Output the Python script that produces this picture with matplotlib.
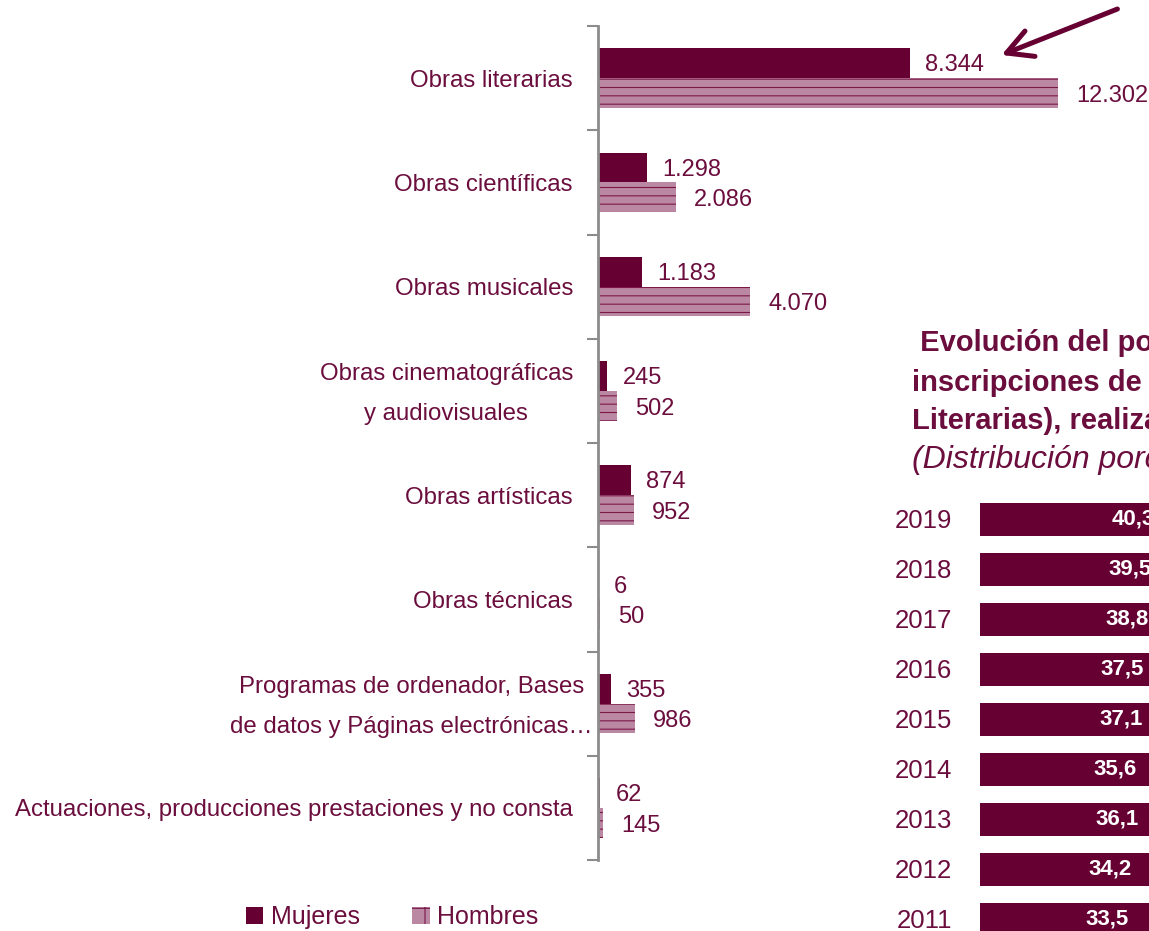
import numpy as np
import matplotlib
matplotlib.use("Agg")
import matplotlib.pyplot as plt
from matplotlib.patches import Patch
from matplotlib.transforms import ScaledTranslation

plt.rcParams['font.family'] = ['Liberation Sans', 'DejaVu Sans']
plt.rcParams['hatch.linewidth'] = 0.8

# Colores
granate = '#660033'
texto = '#6b0d3d'
malva = '#bb88a3'
trama = '#7a1848'

# Datos: inscripciones por tipo de obra y sexo
categorias = ['Obras literarias', 'Obras científicas', 'Obras musicales',
              'Obras cinematográficas\ny audiovisuales', 'Obras artísticas',
              'Obras técnicas', 'Programas de ordenador, Bases\nde datos y Páginas electrónicas…',
              'Actuaciones, producciones prestaciones y no consta']
mujeres = [8344, 1298, 1183, 245, 874, 6, 355, 62]
hombres = [12302, 2086, 4070, 502, 952, 50, 986, 145]

# Datos: evolución del porcentaje (panel derecho, recortado)
anios = ['2019', '2018', '2017', '2016', '2015', '2014', '2013', '2012', '2011']
porcentaje = [40.3, 39.5, 38.8, 37.5, 37.1, 35.6, 36.1, 34.2, 33.5]

W, H = 1149, 931
fig = plt.figure(figsize=(W / 100, H / 100), dpi=100)

def fx(px):
    return px / W

def fy(py):
    return 1 - py / H

# ---- panel izquierdo ----
ax = fig.add_axes([fx(598), fy(860), fx(1149 - 598), (860 - 26) / H])
ax.patch.set_visible(False)
y = np.arange(len(categorias))
h = 0.285
ax.barh(y - h / 2, mujeres, height=h, color=granate, linewidth=0)
ax.barh(y + h / 2, hombres, height=h, facecolor=malva, edgecolor=trama,
        linewidth=0, hatch='--')

ax.set_xlim(0, 12302 * 551 / 460)
ax.set_ylim(len(categorias) - 0.5, -0.5)

def fmt(v):
    return f'{v:,}'.replace(',', '.')

for i in range(len(categorias)):
    ax.annotate(fmt(mujeres[i]), (mujeres[i], y[i] - h / 2), xytext=(11, -1.5),
                textcoords='offset points', va='center', ha='left',
                fontsize=17, color=texto)
    ax.annotate(fmt(hombres[i]), (hombres[i], y[i] + h / 2), xytext=(13, -2),
                textcoords='offset points', va='center', ha='left',
                fontsize=17, color=texto)

ax.set_yticks(y)
ax.set_yticklabels(categorias, fontsize=17.3, color=texto, linespacing=2.05,
                   multialignment='center')
ax.tick_params(axis='y', which='major', length=0, pad=18)
ax.set_yticks(np.arange(-0.5, len(categorias)), minor=True)
ax.tick_params(axis='y', which='minor', length=8, width=1.5, color='#8c8c8c')
ax.set_xticks([])
for s in ['top', 'right', 'bottom']:
    ax.spines[s].set_visible(False)
ax.spines['left'].set_color('#8c8c8c')
ax.spines['left'].set_linewidth(2)

# etiquetas de dos líneas: subir un poco; la de programas sobresale a la derecha
labs = ax.get_yticklabels()
labs[3].set_transform(labs[3].get_transform() + ScaledTranslation(0, 0.08, fig.dpi_scale_trans))
labs[6].set_transform(labs[6].get_transform() + ScaledTranslation(0.2, 0.08, fig.dpi_scale_trans))

# leyenda
handles = [Patch(facecolor=granate, edgecolor='none', label='Mujeres'),
           Patch(facecolor=malva, edgecolor=trama, linewidth=0, hatch='+', label='Hombres')]
fig.legend(handles=handles, loc='center', bbox_to_anchor=(fx(392), fy(917)),
           ncol=2, frameon=False, fontsize=18, labelcolor=texto,
           handlelength=0.7, handleheight=0.7, handletextpad=0.3,
           columnspacing=2.1)

# flecha
ax_arrow = fig.add_axes([0, 0, 1, 1], facecolor='none')
ax_arrow.set_axis_off()
ax_arrow.set_xlim(0, W)
ax_arrow.set_ylim(H, 0)
ax_arrow.annotate('', xy=(999, 56), xytext=(1120, 8),
                  arrowprops=dict(arrowstyle='->,head_length=1.3,head_width=0.7',
                                  color=granate, lw=3.6, mutation_scale=14))

# ---- panel derecho (recortado) ----
tit = [(' Evolución del porcentaje de', 'bold', 'normal', 21, 343),
       ('inscripciones de (Obras no', 'bold', 'normal', 21, 383),
       ('Literarias), realizadas por mujeres', 'bold', 'normal', 21, 421),
       ('(Distribución porcentual)', 'normal', 'italic', 23, 460)]
for t, w, st, fs, py in tit:
    fig.text(fx(912), fy(py), t, fontsize=fs, fontweight=w, fontstyle=st,
             color=texto, ha='left', va='center')

ax2 = fig.add_axes([fx(980), fy(944), fx(1149 - 980), 450 / H])
ax2.patch.set_visible(False)
yy = np.arange(len(anios))
ax2.barh(yy, porcentaje, height=0.66, color=granate, linewidth=0)
ax2.set_xlim(0, (1149 - 980) / 7.6)
ax2.set_ylim(len(anios) - 0.5, -0.5)
for i, v in enumerate(porcentaje):
    ax2.text(v / 2, yy[i], f'{v:.1f}'.replace('.', ','), ha='center',
             va='center', color='white', fontsize=16, fontweight='bold')
ax2.set_yticks(yy)
ax2.set_yticklabels(anios, fontsize=18.5, color=texto)
ax2.tick_params(axis='y', length=0, pad=20)
ax2.set_xticks([])
for s in ax2.spines.values():
    s.set_visible(False)

fig.savefig('out.png', dpi=100)
